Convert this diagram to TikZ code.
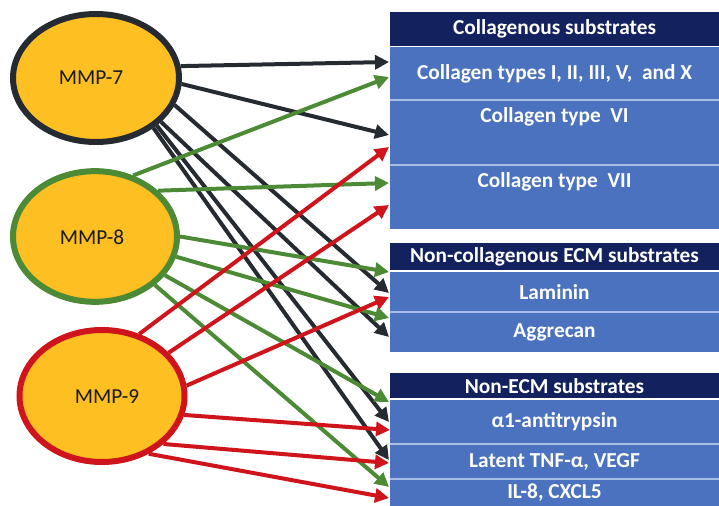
\documentclass[tikz,border=0pt]{standalone}
\usepackage{fontspec}
\setmainfont{Carlito}
\usetikzlibrary{shapes.geometric,arrows.meta}
\definecolor{navy}{HTML}{13215F}
\definecolor{boxblue}{HTML}{4A72BE}
\definecolor{sepline}{HTML}{A9BEE6}
\definecolor{gold}{HTML}{FDBF22}
\definecolor{dk}{HTML}{262A31}
\definecolor{gr}{HTML}{4C8A35}
\definecolor{rd}{HTML}{D0141C}
\begin{document}
\begin{tikzpicture}[x=0.75pt,y=-0.75pt,
  mmp/.style={ellipse, fill=gold, line width=4.5pt, inner sep=0pt},
  mmptxt/.style={font=\fontsize{16}{19}\selectfont, text=black!90, inner sep=0pt},
  rowbox/.style={rectangle, fill=boxblue, minimum width=246.75pt, inner sep=0pt,
    text=white, font=\bfseries\fontsize{16}{19}\selectfont},
  headbox/.style={rowbox, fill=navy},
  rowtxt/.style={text=white, inner sep=0pt, font=\bfseries\fontsize{16}{19}\selectfont},
  sep/.style={draw=sepline, line width=1.2pt},
  arr/.style={line width=3pt, -{Triangle[length=10.5pt,width=10.5pt]}},
  dka/.style={arr, draw=dk, color=dk},
  gra/.style={arr, draw=gr, color=gr},
  rda/.style={arr, draw=rd, color=rd}]
\useasboundingbox (0,0) rectangle (719,506);

% boxes
\node[headbox, minimum height=25.5pt] (h1) at (554.5,29) {Collagenous substrates};
\node[rowbox, minimum height=39.375pt] (c1) at (554.5,73.75) {Collagen types I, II, III, V,\ \ and X};
\node[rowbox, minimum height=48.75pt] (c2) at (554.5,132.5) {};
\node[rowbox, minimum height=48pt] (c3) at (554.5,197) {};
\node[rowtxt] (c2t) at (554.5,117) {Collagen type\ \ VI};
\node[rowtxt] (c3t) at (554.5,182) {Collagen type\ \ VII};
\draw[sep] (c1.south west) -- (c1.south east);
\draw[sep] (c2.south west) -- (c2.south east);

\node[headbox, minimum height=20.625pt] (h2) at (554.5,256.75) {Non-collagenous ECM substrates};
\node[rowbox, minimum height=30pt] (n1) at (554.5,292) {Laminin};
\node[rowbox, minimum height=30pt] (n2) at (554.5,332) {Aggrecan};
\draw[sep] (n1.south west) -- (n1.south east);

\node[headbox, minimum height=19.125pt] (h3) at (554.5,385.75) {Non-ECM substrates};
\node[rowbox, minimum height=33pt] (e1) at (554.5,422) {α1-antitrypsin};
\node[rowbox, minimum height=26.25pt] (e2) at (554.5,461.5) {Latent TNF-α, VEGF};
\node[rowbox, minimum height=20.25pt] (e3) at (554.5,492.5) {IL-8, CXCL5};
\draw[sep] (e1.south west) -- (e1.south east);
\draw[sep] (e2.south west) -- (e2.south east);

% ellipses
\node[mmp, draw=dk, minimum width=124.5pt, minimum height=96pt] (m7) at (96,78) {};
\node[mmp, draw=gr, minimum width=123pt, minimum height=98pt] (m8) at (95,236.5) {};
\node[mmp, draw=rd, minimum width=123.75pt, minimum height=99pt] (m9) at (102,396) {};
\node[mmptxt] (m7t) at (91,78) {MMP-7};
\node[mmptxt] (m8t) at (92,237) {MMP-8};
\node[mmptxt] (m9t) at (107,397) {MMP-9};

% arrow end points
\coordinate (tD1) at (389,62);
\coordinate (tD2) at (389,135);
\coordinate (tD3) at (389,293);
\coordinate (tD4) at (389,337);
\coordinate (tD5) at (389,422);
\coordinate (tD6) at (389,460);
\coordinate (tG1) at (389,77);
\coordinate (tG2) at (389,183);
\coordinate (tG3) at (389,272);
\coordinate (tG4) at (389,318);
\coordinate (tG5) at (389,402);
\coordinate (tG6) at (389,487);
\coordinate (tR1) at (389,147);
\coordinate (tR2) at (389,205);
\coordinate (tR3) at (389,297);
\coordinate (tR4) at (390,430);
\coordinate (tR5) at (389,463);
\coordinate (tR6) at (389,498);

% MMP-7 arrows
\draw[dka] (m7.8) -- (tD1);
\draw[dka] (m7.-4) -- (tD2);
\draw[dka] (m7.-19) -- (tD3);
\draw[dka] (m7.-34) -- (tD4);
\draw[dka] (m7.-38) -- (tD5);
\draw[dka] (m7.-41) -- (tD6);
% MMP-8 arrows
\draw[gra] (m8.58) -- (tG1);
\draw[gra] (m8.36) -- (tG2);
\draw[gra] (m8.0) -- (tG3);
\draw[gra] (m8.-14) -- (tG4);
\draw[gra] (m8.-29) -- (tG5);
\draw[gra] (m8.-39) -- (tG6);
% MMP-9 arrows
\draw[rda] (m9.59) -- (tR1);
\draw[rda] (m9.33) -- (tR2);
\draw[rda] (m9.7) -- (tR3);
\draw[rda] (m9.-13) -- (tR4);
\draw[rda] (m9.-38) -- (tR5);
\draw[rda] (m9.-51) -- (tR6);
\end{tikzpicture}
\end{document}
